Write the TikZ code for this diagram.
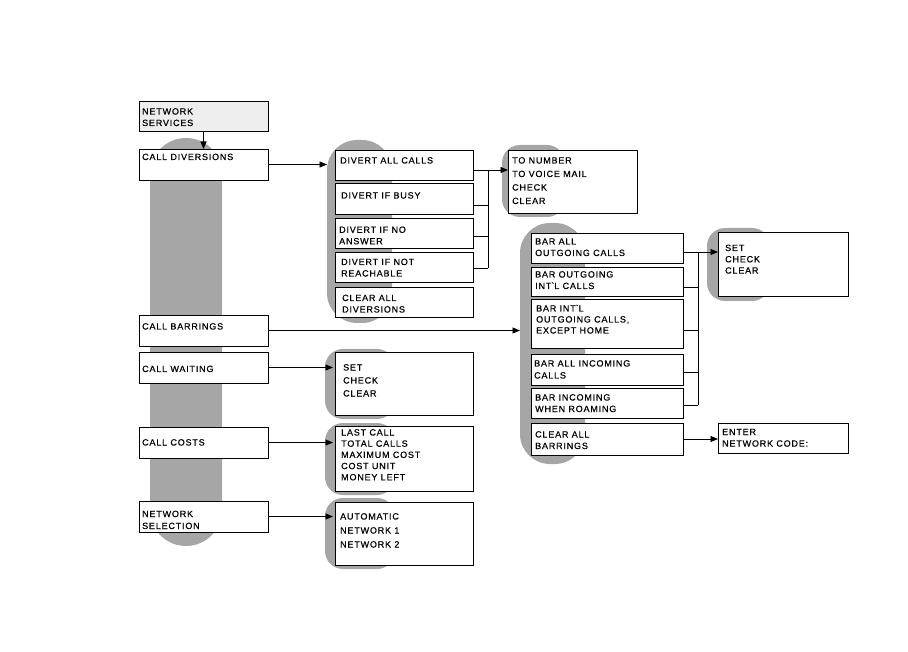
\documentclass[tikz,border=0pt]{standalone}
\usepackage{fontspec}
\setmainfont{Liberation Sans}[LetterSpace=9,FakeBold=0.6]
\usetikzlibrary{arrows.meta}
\definecolor{pill}{RGB}{166,166,166}
\definecolor{hdr}{RGB}{238,238,238}
\newcommand\bx[6][]{\node[box,#1,minimum width={#4pt-#2pt},minimum height={#5pt-#3pt}] (#6) at (#2,#3) {};}
\newcommand\tl[1]{\begin{tabular}[t]{@{}l@{}}#1\end{tabular}}
\begin{document}
\begin{tikzpicture}[x=1pt,y=-1pt,
  box/.style={draw=black,fill=white,line width=0.9pt,inner sep=0pt,outer sep=0pt,anchor=north west},
  lbl/.style={anchor=base west,inner sep=0pt,font=\fontsize{9}{11.5}\selectfont},
  conn/.style={line width=0.8pt},
  arr/.style={conn,-{Triangle[length=7.5pt,width=6pt]}},
  pillar/.style={fill=pill,draw=none}]
\useasboundingbox (0,0) rectangle (908,652);

% gray pillars / shadows
\fill[pillar,rounded corners=36pt] (150,138) rectangle (222,546);
\fill[pillar,rounded corners=30pt] (327,140) rectangle (392,323);
\fill[pillar,rounded corners=30pt] (520,223) rectangle (585,464);
\fill[pillar,rounded corners=18pt] (502,145) rectangle (565,217);
\fill[pillar,rounded corners=18pt] (707,228) rectangle (770,301);
\fill[pillar,rounded corners=18pt] (325,349) rectangle (395,419);
\fill[pillar,rounded corners=18pt] (325,423) rectangle (395,495);
\fill[pillar,rounded corners=18pt] (325,498) rectangle (395,569);

% left column
\bx[fill=hdr]{139}{101}{268}{131}{ns}
\node[lbl] (nst) at (142,114.5) {\tl{NETWORK\\SERVICES}};
\bx{139}{149}{268}{180}{cd}
\node[lbl] (cdt) at (142,160) {CALL DIVERSIONS};
\bx{139}{315}{268}{346}{cb}
\node[lbl] (cbt) at (142,329.5) {CALL BARRINGS};
\bx{139}{352}{268}{383}{cw}
\node[lbl] (cwt) at (142,372) {CALL WAITING};
\bx{139}{427}{268}{458}{cc}
\node[lbl] (cct) at (142,445.5) {CALL COSTS};
\bx{139}{501}{268}{532}{nsel}
\node[lbl,font=\fontsize{9}{12}\selectfont] (nselt) at (142,517) {\tl{NETWORK\\SELECTION}};

% column 2: diversions
\bx{335}{150}{473}{180}{dac}
\node[lbl] (dact) at (340,163.5) {DIVERT ALL CALLS};
\bx{335}{183}{473}{214}{dib}
\node[lbl] (dibt) at (341,198.5) {DIVERT IF BUSY};
\bx{335}{218}{473}{248}{dina}
\node[lbl] (dinat) at (339,232.8) {\tl{DIVERT IF NO\\ANSWER}};
\bx{335}{252}{473}{282}{dinr}
\node[lbl] (dinrt) at (341,265) {\tl{DIVERT IF NOT\\REACHABLE}};
\bx{335}{287}{473}{317}{cad}
\node[lbl] (cadt) at (342,301) {\tl{CLEAR ALL\\DIVERSIONS}};

\bx{508}{150}{637}{213}{tn}
\node[lbl,font=\fontsize{9}{13.5}\selectfont] (tnt) at (512,163.5) {\tl{TO NUMBER\\TO VOICE MAIL\\CHECK\\CLEAR}};

% column 2: other submenus
\bx{335}{352}{473}{415}{cwm}
\node[lbl,font=\fontsize{9}{13}\selectfont] (cwmt) at (343,370.5) {\tl{SET\\CHECK\\CLEAR}};
\bx{335}{426}{473}{491}{ccm}
\node[lbl,font=\fontsize{9}{11.2}\selectfont] (ccmt) at (341,435.5) {\tl{LAST CALL\\TOTAL CALLS\\MAXIMUM COST\\COST UNIT\\MONEY LEFT}};
\bx{335}{502}{473}{565}{nsm}
\node[lbl,font=\fontsize{9}{14}\selectfont] (nsmt) at (340,519.5) {\tl{AUTOMATIC\\NETWORK 1\\NETWORK 2}};

% column 3: barrings
\bx{531}{233}{683}{263}{bao}
\node[lbl] (baot) at (535,244.5) {\tl{BAR ALL\\OUTGOING CALLS}};
\bx{531}{267}{683}{296}{boi}
\node[lbl] (boit) at (535,277.5) {\tl{BAR OUTGOING\\INT\textasciigrave L CALLS}};
\bx{531}{299}{683}{348}{bie}
\node[lbl,font=\fontsize{9}{11}\selectfont] (biet) at (536,311.5) {\tl{BAR INT\textasciigrave L\\OUTGOING CALLS,\\EXCEPT HOME}};
\bx{531}{354}{683}{385}{bai}
\node[lbl,font=\fontsize{9}{12}\selectfont] (bait) at (534,366.5) {\tl{BAR ALL INCOMING\\CALLS}};
\bx{531}{388}{683}{418}{biw}
\node[lbl] (biwt) at (535,400.5) {\tl{BAR INCOMING\\WHEN ROAMING}};
\bx{531}{423}{683}{455}{cab}
\node[lbl] (cabt) at (535,437.5) {\tl{CLEAR ALL\\BARRINGS}};

\bx{718}{232}{848}{296}{scc}
\node[lbl,font=\fontsize{9}{11.3}\selectfont] (scct) at (725,251) {\tl{SET\\CHECK\\CLEAR}};
\bx{718}{423}{848}{453}{enc}
\node[lbl,font=\fontsize{9}{11.6}\selectfont] (enct) at (722,435) {\tl{ENTER\\NETWORK CODE:}};

% connectors
\coordinate (p2) at (327,0);
\coordinate (p3) at (520,0);
\coordinate (sm) at (333,0);
\draw[arr] (ns.south) -- (cd.north);
\draw[arr] (cd.east) -- (cd.east -| p2);
\draw[arr] (cb.east) -- (cb.east -| p3);
\draw[arr] (cw.east) -- (cw.east -| sm);
\draw[arr] (cc.east) -- (cc.east -| sm);
\draw[arr] (nsel.east) -- (nsel.east -| sm);

\coordinate (j1) at (488,170);
\coordinate (j2) at (488,205);
\coordinate (j3) at (488,236);
\coordinate (j4) at (488,268);
\draw[conn] (j1) -- (j4);
\draw[conn] (dac.east |- j1) -- (j1);
\draw[conn] (dib.east |- j2) -- (j2);
\draw[conn] (dina.east |- j3) -- (j3);
\draw[conn] (dinr.east |- j4) -- (j4);
\draw[arr] (j1) -- (tn.west |- j1);

\coordinate (k1) at (698,252);
\coordinate (k2) at (698,287);
\coordinate (k3) at (698,330);
\coordinate (k4) at (698,372);
\coordinate (k5) at (698,405);
\draw[conn] (k1) -- (k5);
\draw[conn] (bao.east |- k1) -- (k1);
\draw[conn] (boi.east |- k2) -- (k2);
\draw[conn] (bie.east |- k3) -- (k3);
\draw[conn] (bai.east |- k4) -- (k4);
\draw[conn] (biw.east |- k5) -- (k5);
\draw[arr] (k1) -- (scc.west |- k1);
\draw[arr] (cab.east) -- (cab.east -| enc.west);
\end{tikzpicture}
\end{document}
